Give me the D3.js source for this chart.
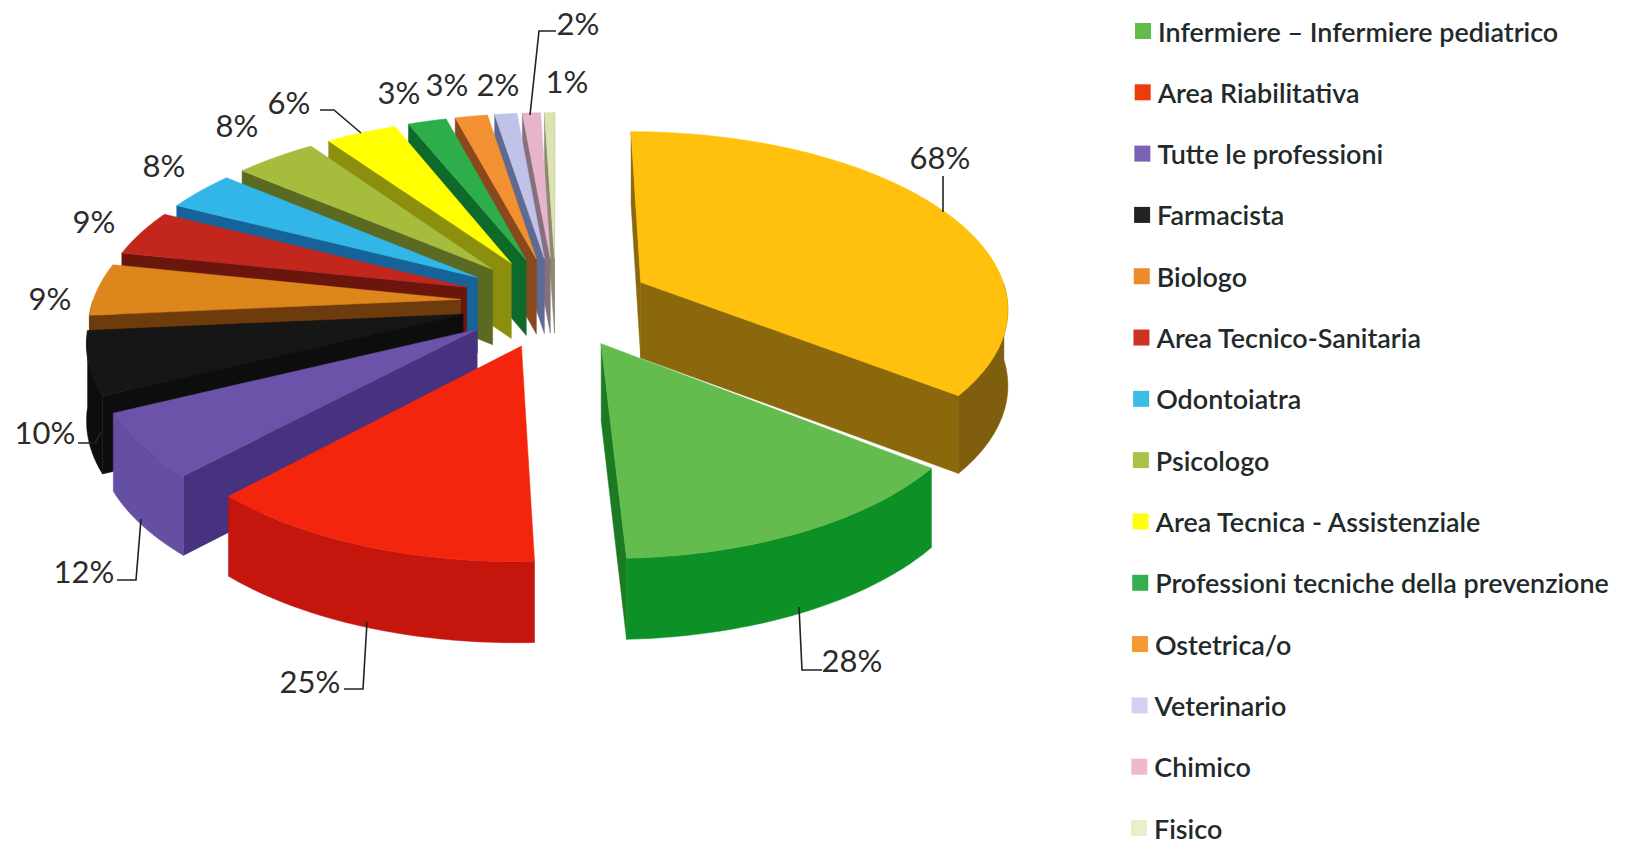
<!DOCTYPE html>
<html><head><meta charset="utf-8">
<script src="https://cdn.jsdelivr.net/npm/d3@7/dist/d3.min.js"></script>
<style>html,body{margin:0;padding:0;background:#fff}svg{display:block}</style>
</head><body><svg id="c" width="1637" height="845"></svg>
<script>
const sliceValues = [69,26.8,24.7,11.3,11.05,9.15,8.1,7,8.1,7,3.8,3.2,2.2,1.8,1];
const sliceLabels = ["68%","28%","25%","12%","10%","9%","9%","8%","8%","6%","3%","3%","2%","2%","1%"];
const legendNames = ["Infermiere – Infermiere pediatrico","Area Riabilitativa","Tutte le professioni","Farmacista","Biologo","Area Tecnico-Sanitaria","Odontoiatra","Psicologo","Area Tecnica - Assistenziale","Professioni tecniche della prevenzione","Ostetrica/o","Veterinario","Chimico","Fisico"];
// ---- styles
const topColors  = ["#FFC107","#63BC4E","#F3260A","#6B53A8","#131513","#DD861E","#C2281E","#33B6E8","#A6BC3E","#FFFF05","#2DAE4C","#F29130","#C0C2E8","#E8B4CC","#DDE3B0"];
const rimColors  = ["#7F5E08","#0F9126","#C4120C","#6550A2","#0D0F0D","#6E3A10","#6A1410","#14639A","#5A6A22","#8C8E10","#0E6A2C","#8A4A1E","#5E6A92","#86707E","#8A8A70"];
const faceColors = ["#8C6810","#1E7A20","#D81A0A","#47317F","#0D0D0D","#6E3A10","#6A1410","#14639A","#5A6A22","#8C8E10","#0E6A2C","#8A4A1E","#5E6A92","#86707E","#8A8A70"];
const legendColors = ["#63BC4E","#EE3A10","#7A62B4","#222","#EE8A2E","#CC3328","#3ABCE6","#A9C247","#FFFF10","#35AE50","#F39A2E","#D2D2F0","#F2B8CA","#E8EFCB"];
// ---- layout
const cx=556, cy=302, Rx=368, Ry=175, persp=0.13, explode=0.26, depth=76;
const labelXY = [[940,157],[852,660],[310,681],[84,571],[45,432],[50,298],[94,221],[164,165],[237,125],[289,102],[399,92],[447,84],[498,84],[578,23],[567,81]];
const leaders = {
  0:[[943,176],[943,212]],
  1:[[799,607],[802,670],[822,670]],
  2:[[367,622],[363,689],[344,689]],
  3:[[141,519],[136,580],[117,580]],
  4:[[78,443],[95,443],[101,432]],
  9:[[320,110],[334,110],[361,133]],
  13:[[530,115],[539,31],[556,31]]
};
const legendX = d3.scaleLinear().domain([0,13]).range([1135,1131]);
const legendY = d3.scaleLinear().domain([0,13]).range([31,828]);

const svg = d3.select("#c");
const defs = svg.append("defs");
defs.append("filter").attr("id","scan").attr("x","-5%").attr("y","-5%").attr("width","110%").attr("height","110%")
  .append("feGaussianBlur").attr("stdDeviation",0.55);

const arcs = d3.pie().sort(null).startAngle(0).endAngle(2*Math.PI)(sliceValues);
const project = (u,v) => { const s=1/(1-persp*v); return [cx+Rx*u*s, cy+Ry*v*s]; };
const wallShift = (u,v) => { const s=1/(1-persp*v); return depth*(1+(s-1)*0.35); };
const line = d3.line();

const g = svg.append("g").attr("filter","url(#scan)");

const slices = arcs.map((a,i)=>{
  const b=(a.startAngle+a.endAngle)/2, ou=explode*Math.sin(b), ov=-explode*Math.cos(b);
  const pt = t=>[ou+Math.sin(t), ov-Math.cos(t)];
  const top = p=>project(p[0],p[1]);
  const bot = p=>{const q=project(p[0],p[1]); return [q[0], q[1]+wallShift(p[0],p[1])];};
  return {i,a,b,ou,ov,pt,top,bot};
}).sort((x,y)=>(-Math.cos(x.b))-(-Math.cos(y.b)));

slices.forEach(s=>{
  const {i,a,ou,ov,pt,top,bot}=s;
  const apex=[ou,ov], n=48;
  const ts=d3.range(n+1).map(k=>a.startAngle+(a.endAngle-a.startAngle)*k/n);
  const rim=ts.map(pt);
  const gs=g.append("g");
  const face=(p)=>[top(apex),top(p),bot(p),bot(apex)];
  const f0=face(rim[0]), f1=face(rim[n]);
  if(d3.polygonArea(f0)>0) gs.append("path").attr("d",line(f0)+"Z").attr("fill",faceColors[i]).attr("stroke",faceColors[i]).attr("stroke-width",.5);
  if(d3.polygonArea(f1)<0) gs.append("path").attr("d",line(f1)+"Z").attr("fill",faceColors[i]).attr("stroke",faceColors[i]).attr("stroke-width",.5);
  // outer wall: only the part that faces the viewer
  const frontIdx=ts.map((t,k)=>Math.cos(t)<0?k:-1).filter(k=>k>=0);
  if(frontIdx.length>1){
    const fr=frontIdx.map(k=>rim[k]);
    const poly=fr.map(top).concat(fr.slice().reverse().map(bot));
    gs.append("path").attr("d",line(poly)+"Z").attr("fill",rimColors[i]).attr("stroke",rimColors[i]).attr("stroke-width",.5);
  }
  const poly=[top(apex)].concat(rim.map(top));
  gs.append("path").attr("d",line(poly)+"Z").attr("fill",topColors[i]).attr("stroke",topColors[i]).attr("stroke-width",.5);
});

// leader lines
const lg=svg.append("g").attr("filter","url(#scan)");
Object.keys(leaders).forEach(k=>{
  lg.append("path").attr("d",line(leaders[k])).attr("fill","none").attr("stroke","#222").attr("stroke-width",1.6);
});
// value labels
svg.append("g").selectAll("text").data(sliceLabels).join("text")
  .attr("x",(d,i)=>labelXY[i][0]).attr("y",(d,i)=>labelXY[i][1])
  .attr("text-anchor","middle").attr("dominant-baseline","central")
  .attr("font-family","Lato, 'Open Sans', sans-serif").attr("font-size",31).attr("fill","#2b2b2b")
  .text(d=>d);

// legend
const lgd=svg.append("g").selectAll("g").data(legendNames).join("g")
  .attr("transform",(d,i)=>`translate(${legendX(i)},${legendY(i)})`);
lgd.append("rect").attr("x",0).attr("y",-8).attr("width",16).attr("height",16).attr("fill",(d,i)=>legendColors[i]).attr("filter","url(#scan)");
lgd.append("text").attr("x",23).attr("y",0).attr("dominant-baseline","central")
  .attr("font-family","Lato, 'Open Sans', sans-serif").attr("font-weight",600).attr("font-size",26.9).attr("fill","#1f2a2a")
  .text(d=>d);
</script></body></html>
